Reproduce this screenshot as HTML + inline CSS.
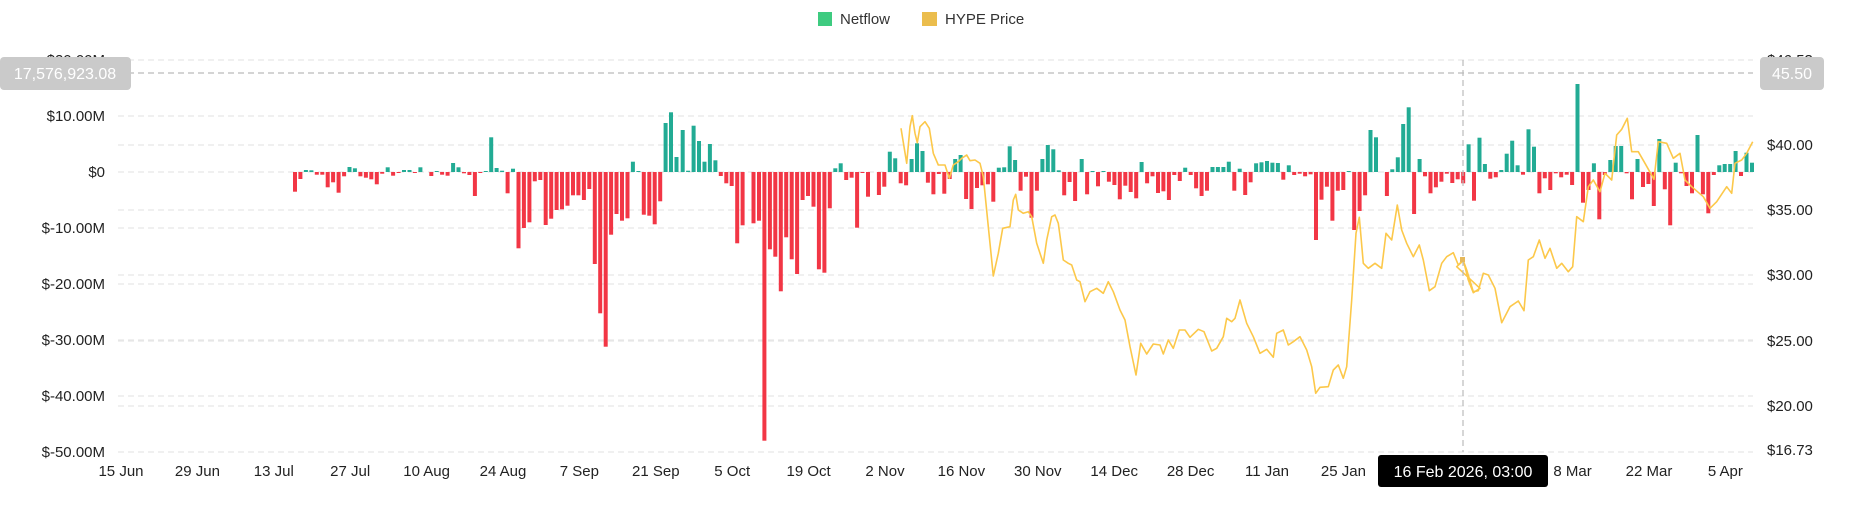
<!DOCTYPE html>
<html><head><meta charset="utf-8"><style>
body{margin:0;background:#fff;width:1852px;height:525px;overflow:hidden;font-family:"Liberation Sans",sans-serif;}
svg{display:block}
</style></head><body>
<svg id="c" width="1852" height="525" xmlns="http://www.w3.org/2000/svg" font-family="Liberation Sans, sans-serif"></svg>
<script>
const S=document.getElementById('c');let h='';
// grid lines
[60,116,172,228,284,340,396,452,145,210,275,341,406].forEach(y=>{h+=`<line x1="118" x2="1753" y1="${y}" y2="${y}" stroke="#e6e6e6" stroke-width="1.2" stroke-dasharray="6,4"/>`;});
// left labels
[['$20.00M',60],['$10.00M',116],['$0',172],['$-10.00M',228],['$-20.00M',284],['$-30.00M',340],['$-40.00M',396],['$-50.00M',452]].forEach(([t,y])=>{h+=`<text x="105" y="${y+5}" text-anchor="end" font-size="15" fill="#222">${t}</text>`;});
[['$46.53',60],['$40.00',145],['$35.00',210],['$30.00',275],['$25.00',341],['$20.00',406],['$16.73',450]].forEach(([t,y])=>{h+=`<text x="1767" y="${y+5}" font-size="15" fill="#222">${t}</text>`;});
// x labels
['15 Jun','29 Jun','13 Jul','27 Jul','10 Aug','24 Aug','7 Sep','21 Sep','5 Oct','19 Oct','2 Nov','16 Nov','30 Nov','14 Dec','28 Dec','11 Jan','25 Jan','8 Feb','22 Feb','8 Mar','22 Mar','5 Apr'].forEach((t,i)=>{if(i==17||i==18)return;h+=`<text x="${121+i*76.4}" y="476" text-anchor="middle" font-size="15" fill="#222">${t}</text>`;});
// bars
const segs=[
[280,100,45,[275,237,210,211,224,224,262,247,278,229,201,205,229,233,238,253,221,202,227,219,210,210,218,202,215,228,213,224,227,189,202,220,225,288,218,213,112,204,212,280,206,445,384,367,244,240,375,356,330,328,317,286,286,300,267,492,640,740,404,342,362,355,185,213,344,347,373,304,69,37,171]],
[680,100,8,[90,212,77,123,185,132,181,228,250,258,430,376,217,370,362,1022,448,470,574,412,478,522,300,288,320,508,518,325,205,190,240,233,383,218,290,216,285,260,155,175,250,256,177,130,153,248,283,222,281,237,177,165,297,327,264,256,253,305,203,202,139,180,272,230,353,272,177,135,148,211,286,246,303]],
[1080,100,5,[177,283,213,259,213,245,255,298,257,276,295,186,250,229,279,274,300,225,243,203,225,265,288,272,201,201,201,185,272,206,285,247,190,187,183,188,189,239,196,225,221,229,223,420,299,260,362,272,270,213,390,333,286,90,112,215,288,208,172,72,22,342,177,229,280,262,245,221,249,238,250,133]],
[1450,40,72,[482,293,372,416,412,390,341,302,376,404,268,320,460,415,450,400,412,404,435,132,488,450,370,538,405,360,318,318,400,478,357,441,432,498,297,448,556,368,400,438,460,285,463,520,405,376,372,372,333,408,338,368]]];
segs.forEach(([x0,y0,s,v])=>{v.forEach((z,k)=>{const x=x0+(s+k*16.35)/3;const y=y0+z/3;const zero=172;const d=y-zero;if(Math.abs(d)<0.6)return;const top=Math.min(y,zero),ht=Math.max(Math.abs(d),1);h+=`<rect x="${(x-2).toFixed(1)}" y="${top.toFixed(1)}" width="4" height="${ht.toFixed(1)}" fill="${d<0?'#22ab94':'#f23645'}"/>`;});});
// price line
const P=[[680,100,[[663,85],[680,190],[690,80],[697,47],[705,100],[712,128],[720,80],[735,65],[748,85],[760,160],[775,195],[795,195],[808,235],[820,195],[835,185],[845,175],[860,165],[870,182],[885,180],[900,190],[910,230],[925,380],[940,528],[955,460],[968,385],[990,380],[1000,300],[1007,283],[1015,330],[1030,340],[1045,335],[1055,350],[1070,430],[1090,490],[1100,420],[1115,350],[1125,345],[1135,370],[1150,480],[1165,490],[1175,495],[1190,540]]],
[1080,100,[[0,545],[15,605],[30,575],[50,565],[70,580],[85,545],[100,575],[120,630],[135,660],[150,740],[168,825],[182,730],[200,762],[220,732],[240,735],[250,762],[265,720],[280,745],[298,690],[315,690],[330,712],[355,688],[372,695],[395,753],[410,745],[430,710],[440,655],[455,665],[465,655],[480,600],[500,670],[520,710],[540,760],[560,748],[580,772],[590,700],[610,690],[625,735],[640,725],[660,710],[680,750],[695,800],[707,880],[720,862],[745,860],[760,810],[775,795],[790,835],[800,800],[815,600],[828,400],[838,352],[850,490],[865,505],[885,490],[905,505],[918,400],[935,420],[952,315],[965,390],[980,430],[1000,470],[1018,435],[1030,480],[1048,572],[1065,560],[1085,490],[1100,470],[1120,458],[1135,495],[1150,480],[1165,540],[1180,578],[1200,565]]],
[1450,40,[[20,680],[40,662],[50,690],[70,755],[85,752],[100,700],[115,705],[135,745],[155,848],[180,800],[205,783],[222,812],[235,660],[250,650],[268,600],[285,655],[300,625],[320,685],[335,670],[355,695],[368,680],[380,530],[400,545],[415,440],[430,420],[450,455],[465,400],[485,420],[500,285],[515,268],[532,235],[545,335],[565,335],[585,370],[612,418],[625,305],[650,310],[670,355],[690,340],[705,420],[725,440],[760,470],[780,505],[800,485],[830,440],[845,460],[855,370],[875,360],[890,340],[908,305]]]];
let pts=[];P.forEach(([x0,y0,a])=>a.forEach(([zx,zy])=>pts.push([x0+zx/3,y0+zy/3])));
h+=`<polyline points="${pts.map(p=>p[0].toFixed(1)+','+p[1].toFixed(1)).join(' ')}" fill="none" stroke="#fcc84a" stroke-width="1.6" stroke-linejoin="round"/>`;
// crosshair
h+=`<line x1="118" x2="1753" y1="73" y2="73" stroke="#bbb" stroke-width="1.2" stroke-dasharray="6,4"/>`;
h+=`<line x1="1463" x2="1463" y1="60" y2="452" stroke="#bbb" stroke-width="1.2" stroke-dasharray="6,4"/>`;
h+=`<rect x="1460" y="257" width="5" height="5" fill="#e6b85a"/>`;
h+=`<rect x="0" y="57" width="131" height="33" rx="4" fill="#cacaca"/><text x="65" y="79" text-anchor="middle" font-size="16" fill="#fff">17,576,923.08</text>`;
h+=`<rect x="1760" y="57" width="64" height="33" rx="4" fill="#cacaca"/><text x="1792" y="79" text-anchor="middle" font-size="16" fill="#fff">45.50</text>`;
h+=`<rect x="1378" y="455" width="170" height="32" rx="3" fill="#000"/><text x="1463" y="477" text-anchor="middle" font-size="16" fill="#fff">16 Feb 2026, 03:00</text>`;
// legend
h+=`<rect x="818" y="12" width="14" height="14" fill="#3ecb80"/><text x="840" y="24" font-size="15" fill="#333">Netflow</text>`;
h+=`<rect x="922" y="12" width="15" height="14" fill="#ebbd4d"/><text x="945" y="24" font-size="15" fill="#333">HYPE Price</text>`;
S.innerHTML=h;
</script>
</body></html>
